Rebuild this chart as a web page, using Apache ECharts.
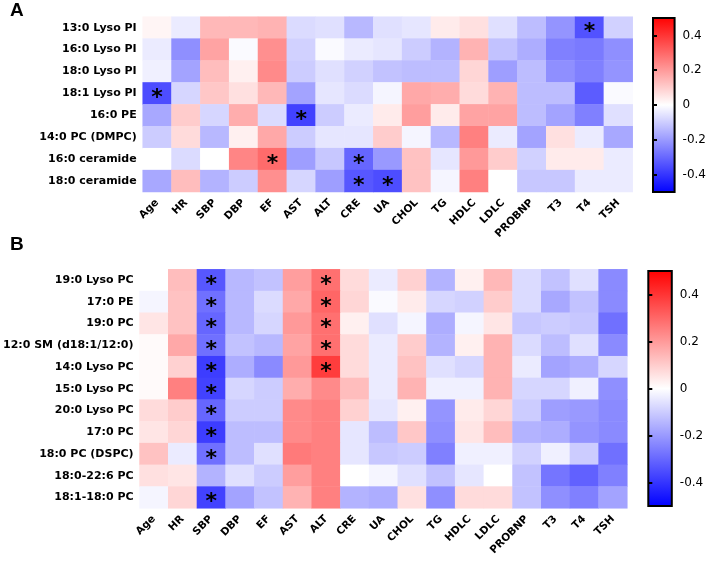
<!DOCTYPE html>
<html>
<head>
<meta charset="utf-8">
<script src="https://cdn.jsdelivr.net/npm/echarts@6/dist/echarts.min.js"></script>
<style>html,body{margin:0;padding:0;background:#fff}#c{width:709px;height:566px}</style>
</head>
<body>
<div id="c"></div>
<script>
const columns = ['Age','HR','SBP','DBP','EF','AST','ALT','CRE','UA','CHOL','TG','HDLC','LDLC','PROBNP','T3','T4','TSH'];

const rowsA = ['13:0 Lyso PI','16:0 Lyso PI','18:0 Lyso PI','18:1 Lyso PI','16:0 PE','14:0 PC (DMPC)','16:0 ceramide','18:0 ceramide'];
const valuesA = [
  [0.02,-0.04,0.14,0.14,0.15,-0.07,-0.06,-0.14,-0.06,-0.05,0.04,0.06,-0.06,-0.13,-0.21,-0.34,-0.09],
  [-0.04,-0.22,0.18,-0.01,0.22,-0.09,-0.01,-0.04,-0.05,-0.10,-0.15,0.15,-0.12,-0.16,-0.25,-0.26,-0.22],
  [-0.03,-0.18,0.13,0.03,0.23,-0.10,-0.06,-0.09,-0.12,-0.13,-0.13,0.08,-0.19,-0.13,-0.22,-0.25,-0.21],
  [-0.35,-0.08,0.11,0.06,0.14,-0.18,-0.05,-0.07,-0.02,0.17,0.16,0.07,0.15,-0.13,-0.13,-0.32,-0.01],
  [-0.17,0.10,-0.08,0.16,-0.07,-0.37,-0.10,-0.04,0.04,0.19,0.04,0.18,0.18,-0.13,-0.18,-0.25,-0.06],
  [-0.10,0.07,-0.14,0.03,0.17,-0.10,-0.05,-0.05,0.10,-0.02,-0.14,0.25,-0.04,-0.18,0.06,-0.04,-0.17],
  [0.00,-0.07,0.00,0.24,0.29,-0.19,-0.11,-0.30,-0.20,0.12,-0.05,0.20,0.10,-0.09,0.04,0.04,-0.04],
  [-0.17,0.13,-0.15,-0.10,0.22,-0.08,-0.19,-0.33,-0.35,0.12,-0.02,0.25,0.00,-0.11,-0.11,-0.04,-0.04]
];
// [row, column] of significant cells
const sigA = [[0,15],[3,0],[4,5],[6,4],[6,7],[7,7],[7,8]];

const rowsB = ['19:0 Lyso PC','17:0 PE','19:0 PC','12:0 SM (d18:1/12:0)','14:0 Lyso PC','15:0 Lyso PC','20:0 Lyso PC','17:0 PC','18:0 PC (DSPC)','18:0-22:6 PC','18:1-18:0 PC'];
const valuesB = [
  [0.00,0.13,-0.33,-0.14,-0.12,0.19,0.28,0.07,-0.04,0.09,-0.15,0.03,0.14,-0.07,-0.12,-0.06,-0.23],
  [-0.02,0.12,-0.28,-0.14,-0.07,0.17,0.30,0.08,-0.01,0.04,-0.08,-0.09,0.10,-0.07,-0.17,-0.12,-0.23],
  [0.05,0.12,-0.30,-0.14,-0.08,0.20,0.28,0.03,-0.06,-0.02,-0.16,-0.02,0.05,-0.11,-0.10,-0.11,-0.28],
  [0.01,0.17,-0.28,-0.12,-0.14,0.18,0.28,0.07,-0.04,0.10,-0.15,0.03,0.15,-0.07,-0.13,-0.06,-0.23],
  [0.01,0.09,-0.38,-0.16,-0.23,0.20,0.38,0.07,-0.04,0.12,-0.06,-0.08,0.15,-0.04,-0.18,-0.16,-0.08],
  [0.01,0.25,-0.37,-0.08,-0.10,0.16,0.23,0.13,-0.04,0.15,-0.03,-0.03,0.15,-0.08,-0.08,-0.03,-0.22],
  [0.07,0.10,-0.30,-0.10,-0.10,0.23,0.25,0.09,-0.05,0.03,-0.21,0.04,0.08,-0.10,-0.19,-0.20,-0.23],
  [0.05,0.08,-0.38,-0.13,-0.13,0.23,0.25,-0.05,-0.13,0.11,-0.22,0.05,0.13,-0.15,-0.16,-0.21,-0.23],
  [0.12,-0.04,-0.28,-0.13,-0.06,0.26,0.25,-0.05,-0.11,-0.10,-0.25,-0.03,-0.03,-0.09,-0.03,-0.10,-0.28],
  [0.06,0.05,-0.15,-0.06,-0.10,0.19,0.25,0.00,-0.02,-0.06,-0.12,-0.05,0.00,-0.12,-0.27,-0.31,-0.25],
  [-0.02,0.08,-0.37,-0.18,-0.12,0.15,0.25,-0.15,-0.16,0.06,-0.22,0.07,0.07,-0.12,-0.22,-0.25,-0.18]
];
const sigB = [[0,2],[1,2],[2,2],[3,2],[4,2],[5,2],[6,2],[7,2],[8,2],[10,2],[0,6],[1,6],[2,6],[3,6],[4,6]];

const colorTicks = [-0.4,-0.2,0,0.2,0.4];

function toData(values, sig){
  const out = [];
  values.forEach((row, r) => row.forEach((v, c) => {
    const s = sig.some(p => p[0] === r && p[1] === c) ? 1 : 0;
    out.push([c, r, v, s]);
  }));
  return out;
}

const chart = echarts.init(document.getElementById('c'), null, {renderer:'canvas'});
const lblFont = {fontFamily:'DejaVu Sans', fontWeight:'bold', fontSize:11, color:'#000'};
const gradient = new echarts.graphic.LinearGradient(0,0,0,1,[
  {offset:0,color:'#ff0000'},{offset:0.5,color:'#ffffff'},{offset:1,color:'#0000ff'}]);

function heatX(gi){
  return {type:'category', gridIndex:gi, data:columns, axisLine:{show:false}, axisTick:{show:false},
    splitArea:{show:false},
    axisLabel:Object.assign({rotate:45, interval:0, margin:9}, lblFont, {fontSize:10.5})};
}
function heatY(gi, rows){
  return {type:'category', gridIndex:gi, data:rows, inverse:true, axisLine:{show:false}, axisTick:{show:false},
    axisLabel:Object.assign({interval:0, margin:6}, lblFont)};
}
function barY(gi, pos, withLabels){
  return {type:'value', gridIndex:gi, position:pos, min:-0.5, max:0.5,
    axisLine:{show:false}, splitLine:{show:false},
    axisTick:{show:true, inside:pos==='left', length:4, lineStyle:{color:'#000', width:2}, customValues:colorTicks},
    axisLabel:{show:withLabels, margin:8, fontFamily:'DejaVu Sans', fontSize:12, color:'#000',
      customValues:colorTicks, formatter:v => v === 0 ? '0' : v.toFixed(1)}};
}
function heatSeries(xi, yi, data){
  return {type:'heatmap', xAxisIndex:xi, yAxisIndex:yi, data:data,
    itemStyle:{borderWidth:0}, emphasis:{disabled:true},
    label:{show:true, formatter:p => p.data[3] ? '*' : '', fontFamily:'DejaVu Sans', fontWeight:'bold',
      fontSize:22, color:'#000', offset:[0,5]}};
}

const option = {
  animation:false,
  backgroundColor:'#fff',
  grid:[
    {left:142.7, top:16.7, width:490, height:175.3},
    {left:136.7, top:269.3, width:490.6, height:239},
    {left:653, top:18, width:24, height:174, show:true, backgroundColor:gradient, borderColor:'#000', borderWidth:2},
    {left:648.3, top:271, width:23.5, height:235, show:true, backgroundColor:gradient, borderColor:'#000', borderWidth:2}
  ],
  xAxis:[heatX(0), heatX(1),
    {type:'value', gridIndex:2, show:false, min:0, max:1},
    {type:'value', gridIndex:3, show:false, min:0, max:1}],
  yAxis:[heatY(0, rowsA), heatY(1, rowsB),
    barY(2,'right',true), barY(3,'right',true), barY(2,'left',false), barY(3,'left',false)],
  visualMap:[
    {type:'continuous', show:false, seriesIndex:0, dimension:2, min:-0.5, max:0.5, inRange:{color:['#0000ff','#ffffff','#ff0000']}},
    {type:'continuous', show:false, seriesIndex:1, dimension:2, min:-0.5, max:0.5, inRange:{color:['#0000ff','#ffffff','#ff0000']}}
  ],
  graphic:[
    {type:'text', left:10, top:1, style:{text:'A', font:'bold 19px "Liberation Sans"', fill:'#000'}},
    {type:'text', left:10, top:235, style:{text:'B', font:'bold 19px "Liberation Sans"', fill:'#000'}}
  ],
  series:[
    heatSeries(0, 0, toData(valuesA, sigA)),
    heatSeries(1, 1, toData(valuesB, sigB))
  ]
};
chart.setOption(option);
</script>
</body>
</html>
